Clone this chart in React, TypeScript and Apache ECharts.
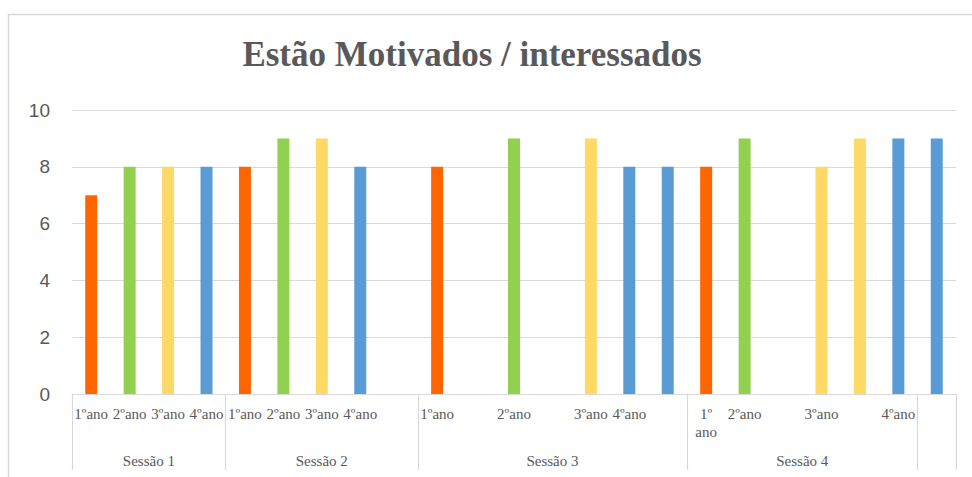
import React, { useEffect, useRef } from "react";
import * as echarts from "echarts";

const titleText = "Estão Motivados / interessados";
const categories = [
  "1ºano", "2ºano", "3ºano", "4ºano",
  "1ºano", "2ºano", "3ºano", "4ºano", "",
  "1ºano", "", "2ºano", "", "3ºano", "4ºano", "",
  "1º\nano", "2ºano", "", "3ºano", "", "4ºano",
  "",
];
const values: (number | null)[] = [
  7, 8, 8, 8,
  8, 9, 9, 8, null,
  8, null, 9, null, 9, 8, 8,
  8, 9, null, 8, 9, 9,
  9,
];
const colorKeys: (string | null)[] = [
  "o", "g", "y", "b",
  "o", "g", "y", "b", null,
  "o", null, "g", null, "y", "b", "b",
  "o", "g", null, "y", "y", "b",
  "b",
];
const groupNames = ["Sessão 1", "Sessão 2", "Sessão 3", "Sessão 4", ""];
const groupSizes = [4, 5, 7, 6, 1];
const yTicks = { min: 0, max: 10, interval: 2 };

const palette: Record<string, string> = {
  o: "#FF6600",
  g: "#92D050",
  y: "#FFD966",
  b: "#5B9BD5",
};

export default function App() {
  const ref = useRef<HTMLDivElement>(null);
  useEffect(() => {
    if (!ref.current) return;
    const chart = echarts.init(ref.current, undefined, { renderer: "svg" });
    const boundaries: number[] = [0];
    const centers: number[] = [];
    let acc = 0;
    groupSizes.forEach((s) => {
      centers.push(acc + s / 2);
      acc += s;
      boundaries.push(acc);
    });
    const total = acc;
    const axisColor = "#D9D9D9";
    const textColor = "#595959";
    chart.setOption({
      animation: false,
      backgroundColor: "#ffffff",
      graphic: [
        {
          type: "rect",
          shape: { x: 8.5, y: 14.5, width: 1200, height: 1000 },
          style: { fill: "none", stroke: axisColor, lineWidth: 1.5 },
          silent: true,
          z: -10,
        },
        {
          type: "text",
          x: 472,
          y: 54,
          style: {
            text: titleText,
            fill: textColor,
            font: 'bold 35px "Liberation Serif", "Times New Roman", serif',
            textAlign: "center",
            textVerticalAlign: "middle",
          },
        },
      ],
      grid: { left: 72, right: 16, top: 110, bottom: 83, containLabel: false },
      xAxis: [
        {
          type: "category",
          data: categories,
          axisLine: { show: true, lineStyle: { color: axisColor, width: 1.2 } },
          axisTick: { show: false },
          axisLabel: {
            interval: 0,
            color: textColor,
            fontFamily: '"Liberation Serif", "Times New Roman", serif',
            fontSize: 15,
            lineHeight: 18,
            margin: 11,
          },
          splitLine: { show: false },
        },
        {
          type: "value",
          min: 0,
          max: total,
          position: "bottom",
          axisLine: { show: false },
          axisTick: {
            show: true,
            customValues: boundaries,
            length: 76,
            lineStyle: { color: axisColor, width: 1.2 },
          },
          axisLabel: {
            customValues: centers,
            formatter: (v: number) => {
              const i = centers.findIndex((c) => Math.abs(c - v) < 1e-6);
              return i >= 0 ? groupNames[i] : "";
            },
            color: textColor,
            fontFamily: '"Liberation Serif", "Times New Roman", serif',
            fontSize: 15,
            margin: 59,
          },
          splitLine: { show: false },
        },
      ],
      yAxis: {
        type: "value",
        min: yTicks.min,
        max: yTicks.max,
        interval: yTicks.interval,
        axisLine: { show: false },
        axisTick: { show: false },
        axisLabel: {
          color: textColor,
          fontFamily: '"Liberation Sans", "Noto Sans", sans-serif',
          fontSize: 19,
          margin: 22,
        },
        splitLine: { lineStyle: { color: axisColor, width: 1.2 } },
      },
      series: [
        {
          type: "bar",
          xAxisIndex: 0,
          barWidth: 12,
          data: values.map((v, i) => ({
            value: v,
            itemStyle: { color: colorKeys[i] ? palette[colorKeys[i] as string] : "transparent" },
          })),
        },
      ],
    });
    return () => chart.dispose();
  }, []);
  return (
    <div
      ref={ref}
      style={{ position: "fixed", left: 0, top: 0, width: 972, height: 477 }}
    />
  );
}
